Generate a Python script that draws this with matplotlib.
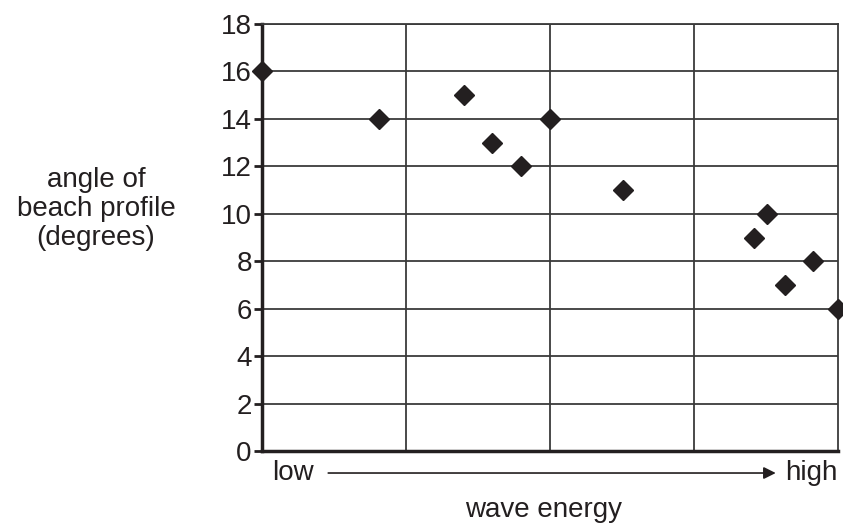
import numpy as np
import matplotlib.pyplot as plt

plt.rcParams['font.family'] = ['Liberation Sans', 'DejaVu Sans']

# data (x is wave energy on a 0-4 grid, low -> high)
wave_energy = [0.0, 0.81, 1.40, 1.60, 1.80, 2.0, 2.51, 3.42, 3.51, 3.63, 3.83, 4.0]
beach_angle = [16, 14, 15, 13, 12, 14, 11, 9, 10, 7, 8, 6]
y_ticks = [0, 2, 4, 6, 8, 10, 12, 14, 16, 18]

ink = '#231f20'

fig = plt.figure(figsize=(8.43, 5.29), dpi=100)
ax = fig.add_axes([0.3108, 0.1474, 0.6832, 0.8072])

ax.set_xlim(0, 4)
ax.set_ylim(0, 18)
ax.set_yticks(y_ticks)
ax.set_xticks([1, 2, 3])
ax.set_xticklabels([])
ax.tick_params(axis='x', length=0)
ax.tick_params(axis='y', length=5.8, width=2, color=ink, labelsize=20,
               labelcolor=ink, pad=1.5)
ax.grid(True, color='#3a3a3a', linewidth=1.3)
ax.set_axisbelow(True)

for side in ['left', 'bottom']:
    ax.spines[side].set_linewidth(2.5)
    ax.spines[side].set_color(ink)
for side in ['top', 'right']:
    ax.spines[side].set_linewidth(1.3)
    ax.spines[side].set_color('#3a3a3a')

ax.plot(wave_energy, beach_angle, linestyle='none', marker='D',
        markersize=10.2, color=ink, clip_on=False, zorder=5)

# axis labels
fig.text(96 / 843, 1 - 209 / 529, 'angle of\nbeach profile\n(degrees)',
         ha='center', va='center', fontsize=20, color=ink, linespacing=1.15)
ax.text(0.017, -0.0515, 'low', transform=ax.transAxes, ha='left',
        va='center', fontsize=20, color=ink)
ax.text(1.0, -0.0515, 'high', transform=ax.transAxes, ha='right',
        va='center', fontsize=20, color=ink)
ax.annotate('', xy=(0.892, -0.0515), xytext=(0.115, -0.0515),
            xycoords='axes fraction', textcoords='axes fraction',
            arrowprops=dict(arrowstyle='-|>', color=ink, lw=1.2,
                            mutation_scale=18, shrinkA=0, shrinkB=0))
ax.text(0.489, -0.138, 'wave energy', transform=ax.transAxes, ha='center',
        va='center', fontsize=20, color=ink)

plt.savefig('out.png', dpi=100)
